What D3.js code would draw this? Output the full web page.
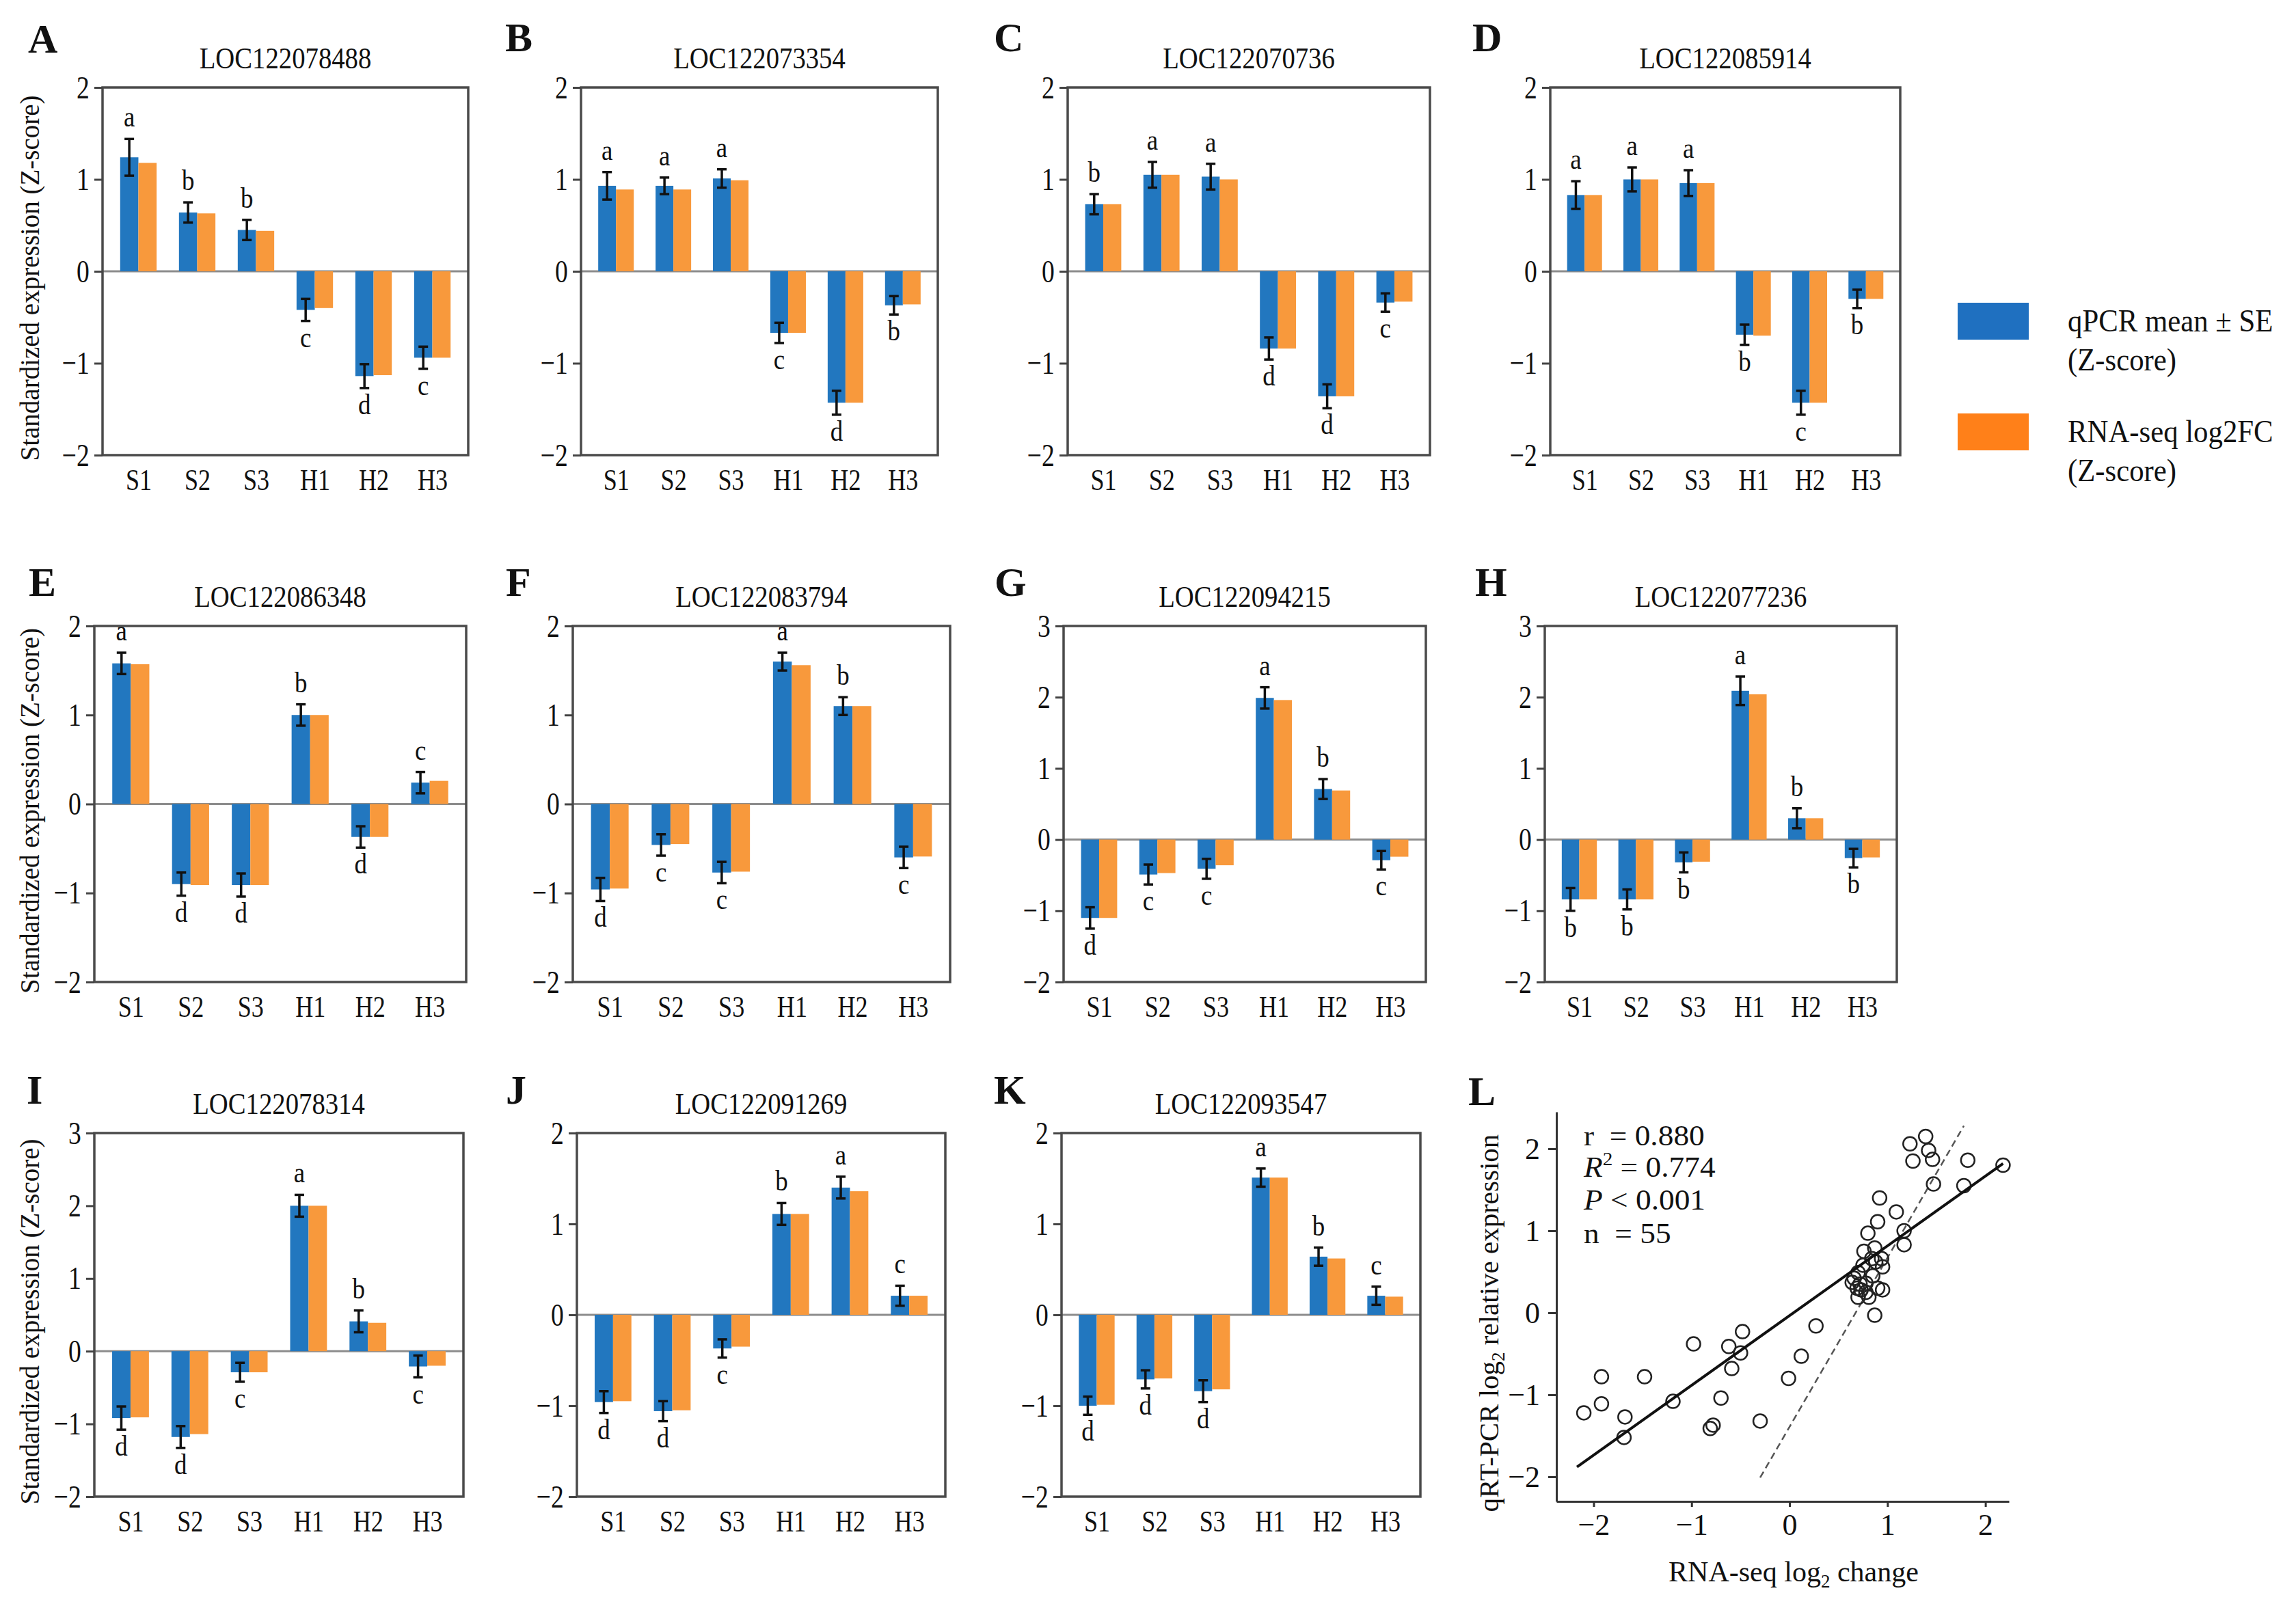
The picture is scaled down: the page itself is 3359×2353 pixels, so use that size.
<!DOCTYPE html>
<html>
<head>
<meta charset="utf-8">
<script src="https://cdn.jsdelivr.net/npm/d3@7"></script>
<style>
    body { margin: 0; background: #fff; }
    text { font-family: "Liberation Serif", "Times New Roman", serif; fill: #111; }
</style>
</head>
<body>
<div id="chart"></div>
<script>
// ---- data ----
var groups = ["S1", "S2", "S3", "H1", "H2", "H3"];
var panelIds = ["A", "B", "C", "D", "E", "F", "G", "H", "I", "J", "K"];
var genes = ["LOC122078488", "LOC122073354", "LOC122070736", "LOC122085914",
             "LOC122086348", "LOC122083794", "LOC122094215", "LOC122077236",
             "LOC122078314", "LOC122091269", "LOC122093547"];

// y axis range of each panel
var yRanges = [[-2, 2], [-2, 2], [-2, 2], [-2, 2],
               [-2, 2], [-2, 2], [-2, 3], [-2, 3],
               [-2, 3], [-2, 2], [-2, 2]];

// qPCR mean (Z-score)
var qpcrMean = [
    [1.24, 0.64, 0.45, -0.42, -1.14, -0.94],
    [0.93, 0.93, 1.01, -0.67, -1.43, -0.37],
    [0.73, 1.05, 1.03, -0.84, -1.36, -0.34],
    [0.83, 1.00, 0.96, -0.69, -1.43, -0.30],
    [1.58, -0.90, -0.91, 1.00, -0.37, 0.24],
    [-0.96, -0.46, -0.77, 1.60, 1.10, -0.60],
    [-1.10, -0.49, -0.41, 1.99, 0.71, -0.29],
    [-0.84, -0.84, -0.32, 2.09, 0.30, -0.26],
    [-0.92, -1.18, -0.29, 2.00, 0.41, -0.21],
    [-0.96, -1.06, -0.37, 1.11, 1.40, 0.21],
    [-1.00, -0.71, -0.84, 1.51, 0.64, 0.21]
];
// qPCR standard error
var qpcrSE = [
    [0.20, 0.11, 0.11, 0.12, 0.13, 0.12],
    [0.15, 0.09, 0.10, 0.11, 0.13, 0.10],
    [0.11, 0.14, 0.14, 0.12, 0.13, 0.10],
    [0.15, 0.13, 0.14, 0.11, 0.13, 0.10],
    [0.12, 0.13, 0.13, 0.12, 0.12, 0.12],
    [0.13, 0.12, 0.12, 0.10, 0.10, 0.12],
    [0.15, 0.14, 0.14, 0.15, 0.14, 0.13],
    [0.16, 0.14, 0.14, 0.20, 0.14, 0.13],
    [0.16, 0.15, 0.13, 0.15, 0.15, 0.15],
    [0.12, 0.11, 0.10, 0.12, 0.12, 0.11],
    [0.10, 0.10, 0.12, 0.10, 0.10, 0.10]
];
// RNA-seq log2FC (Z-score)
var rnaseqFC = [
    [1.18, 0.63, 0.44, -0.40, -1.13, -0.94],
    [0.89, 0.89, 0.99, -0.67, -1.43, -0.36],
    [0.73, 1.05, 1.00, -0.84, -1.36, -0.33],
    [0.83, 1.00, 0.96, -0.70, -1.43, -0.30],
    [1.57, -0.91, -0.91, 1.00, -0.37, 0.26],
    [-0.95, -0.45, -0.76, 1.56, 1.10, -0.59],
    [-1.10, -0.47, -0.36, 1.96, 0.69, -0.24],
    [-0.84, -0.84, -0.31, 2.04, 0.30, -0.25],
    [-0.91, -1.14, -0.29, 2.00, 0.39, -0.20],
    [-0.95, -1.05, -0.35, 1.11, 1.36, 0.21],
    [-0.99, -0.70, -0.82, 1.51, 0.62, 0.20]
];
// significance letters
var sigLetters = [
    ["a", "b", "b", "c", "d", "c"],
    ["a", "a", "a", "c", "d", "b"],
    ["b", "a", "a", "d", "d", "c"],
    ["a", "a", "a", "b", "c", "b"],
    ["a", "d", "d", "b", "d", "c"],
    ["d", "c", "c", "a", "b", "c"],
    ["d", "c", "c", "a", "b", "c"],
    ["b", "b", "b", "a", "b", "b"],
    ["d", "d", "c", "a", "b", "c"],
    ["d", "d", "c", "b", "a", "c"],
    ["d", "d", "d", "a", "b", "c"]
];

// panel L scatter: RNA-seq log2 change vs qRT-PCR log2 relative expression
var rnaLog2 = [-2.10, -1.92, -1.92, -1.68, -1.69, -1.48, -1.19, -0.98, -0.81, -0.78,
               -0.70, -0.62, -0.59, -0.50, -0.48, -0.30, -0.01, 0.12, 0.27, 0.87,
               0.64, 0.70, 0.73, 0.76, 0.78, 0.81, 0.84, 0.87, 0.80, 0.90,
               0.94, 0.95, 0.95, 0.70, 0.69, 0.90, 0.92, 1.09, 1.17, 1.17,
               1.23, 1.39, 1.42, 1.26, 1.46, 1.47, 1.78, 1.82, 2.18, 0.66,
               0.75, 0.85, 0.72, 0.88, 0.78];
var qpcrLog2 = [-1.22, -1.11, -0.78, -1.27, -1.52, -0.78, -1.08, -0.38, -1.41, -1.37,
                -1.04, -0.41, -0.68, -0.49, -0.23, -1.32, -0.80, -0.53, -0.16, -0.03,
                0.37, 0.49, 0.28, 0.75, 0.36, 0.19, 0.66, 0.79, 0.97, 0.30,
                0.66, 0.56, 0.28, 0.19, 0.30, 1.11, 1.40, 1.23, 1.00, 0.83,
                2.06, 2.15, 1.98, 1.85, 1.87, 1.57, 1.55, 1.86, 1.80, 0.42,
                0.58, 0.45, 0.35, 0.62, 0.25];
var fitLine = [[-2.17, -1.88], [2.18, 1.82]];
var dashLine = [[-0.30, -2.01], [1.78, 2.28]];
var statLines = ["r", "R2", "P", "n"];
var statValues = ["0.880", "0.774", "0.001", "55"];

var seriesNames = [["qPCR mean \u00b1 SE", "(Z-score)"], ["RNA-seq log2FC", "(Z-score)"]];

// ---- layout ----
var W = 3359, H = 2353;
var blue = "#2277bf", orange = "#f8993c";
var legendBlue = "#1f70c0", legendOrange = "#ff8019";

var rows = [[128, 666], [916, 1437], [1658, 2190]];
var boxes = [
    {x0: 150, x1: 685, r: 0, lx: 41, ly: 77},
    {x0: 850, x1: 1372, r: 0, lx: 739, ly: 75},
    {x0: 1562, x1: 2092, r: 0, lx: 1454, ly: 75},
    {x0: 2268, x1: 2780, r: 0, lx: 2154, ly: 75},
    {x0: 138, x1: 682, r: 1, lx: 42, ly: 872},
    {x0: 838, x1: 1390, r: 1, lx: 740, ly: 872},
    {x0: 1556, x1: 2086, r: 1, lx: 1455, ly: 872},
    {x0: 2260, x1: 2775, r: 1, lx: 2158, ly: 872},
    {x0: 138, x1: 678, r: 2, lx: 39, ly: 1615},
    {x0: 844, x1: 1383, r: 2, lx: 740, ly: 1615},
    {x0: 1553, x1: 2078, r: 2, lx: 1454, ly: 1615}
];

var svg = d3.select("#chart")
    .append("svg")
    .attr("width", W)
    .attr("height", H);

svg.append("rect").attr("width", W).attr("height", H).attr("fill", "#fff");

// text helper, slightly condensed like the original
function label(g, str, x, y, size, sx, anchor) {
    return g.append("text")
        .attr("transform", "translate(" + x + "," + y + ") scale(" + sx + ",1)")
        .attr("text-anchor", anchor || "middle")
        .attr("font-size", size)
        .text(str);
}

function barPanel(i) {
    var b = boxes[i];
    var y0 = rows[b.r][0], y1 = rows[b.r][1];
    var g = svg.append("g");

    var x = d3.scalePoint().domain(groups).range([b.x0, b.x1]).padding(0.61);
    var y = d3.scaleLinear().domain(yRanges[i]).range([y1, y0]);
    var bw = x.step() * 0.31;

    // panel letter and gene title
    g.append("text").attr("x", b.lx).attr("y", b.ly)
        .attr("font-size", 60).attr("font-weight", "bold").text(panelIds[i]);
    label(g, genes[i], (b.x0 + b.x1) / 2, y0 - 28, 44, 0.88);

    // zero line
    g.append("line")
        .attr("x1", b.x0).attr("x2", b.x1)
        .attr("y1", y(0)).attr("y2", y(0))
        .attr("stroke", "#8c8c8c").attr("stroke-width", 3);

    // bars
    g.selectAll(".qpcr")
        .data(groups)
        .enter()
        .append("rect")
        .attr("x", function (d) { return x(d) - bw; })
        .attr("y", function (d, j) { return y(Math.max(0, qpcrMean[i][j])); })
        .attr("width", bw)
        .attr("height", function (d, j) { return Math.abs(y(qpcrMean[i][j]) - y(0)); })
        .attr("fill", blue);

    g.selectAll(".rna")
        .data(groups)
        .enter()
        .append("rect")
        .attr("x", function (d) { return x(d); })
        .attr("y", function (d, j) { return y(Math.max(0, rnaseqFC[i][j])); })
        .attr("width", bw)
        .attr("height", function (d, j) { return Math.abs(y(rnaseqFC[i][j]) - y(0)); })
        .attr("fill", orange);

    // error bars on the qPCR bars
    groups.forEach(function (d, j) {
        var cx = x(d) - bw / 2;
        var top = y(qpcrMean[i][j] + qpcrSE[i][j]);
        var bot = y(qpcrMean[i][j] - qpcrSE[i][j]);
        var eb = g.append("g").attr("stroke", "#111").attr("stroke-width", 3.5);
        eb.append("line").attr("x1", cx).attr("x2", cx).attr("y1", top).attr("y2", bot);
        eb.append("line").attr("x1", cx - 7).attr("x2", cx + 7).attr("y1", top).attr("y2", top);
        eb.append("line").attr("x1", cx - 7).attr("x2", cx + 7).attr("y1", bot).attr("y2", bot);

        var ly = qpcrMean[i][j] >= 0 ? top - 18 : bot + 38;
        label(g, sigLetters[i][j], cx, ly, 43, 0.86);
    });

    // frame
    g.append("rect")
        .attr("x", b.x0).attr("y", y0)
        .attr("width", b.x1 - b.x0).attr("height", y1 - y0)
        .attr("fill", "none").attr("stroke", "#4a4a4a").attr("stroke-width", 3.5);

    // y axis
    var ya = g.append("g")
        .attr("transform", "translate(" + b.x0 + ",0)")
        .call(d3.axisLeft(y)
            .tickValues(d3.range(yRanges[i][0], yRanges[i][1] + 1))
            .tickSize(12).tickPadding(12).tickFormat(d3.format("d")));
    ya.select(".domain").remove();
    ya.attr("font-family", null).attr("font-size", 47);
    ya.selectAll("line").attr("stroke", "#444").attr("stroke-width", 3);
    ya.selectAll("text").attr("transform", "scale(0.8,1)").attr("fill", "#111");

    // x axis (group labels)
    var xa = g.append("g")
        .attr("transform", "translate(0," + y1 + ")")
        .call(d3.axisBottom(x).tickSize(0).tickPadding(20));
    xa.select(".domain").remove();
    xa.attr("font-family", null).attr("font-size", 44);
    xa.selectAll("text").attr("transform", "scale(0.82,1)").attr("fill", "#111");

    // y title on the first column only
    if (i === 0 || i === 4 || i === 8) {
        g.append("text")
            .attr("transform", "translate(57," + ((y0 + y1) / 2 + 10) + ") rotate(-90)")
            .attr("text-anchor", "middle")
            .attr("font-size", 39)
            .text("Standardized expression (Z-score)");
    }
}

for (var i = 0; i < genes.length; i++) {
    barPanel(i);
}

// ---- legend ----
var lg = svg.append("g");
[legendBlue, legendOrange].forEach(function (c, k) {
    var top = k === 0 ? 443 : 605;
    lg.append("rect").attr("x", 2864).attr("y", top)
        .attr("width", 104).attr("height", 54).attr("fill", c);
    label(lg, seriesNames[k][0], 3025, top + 42, 46, 0.93, "start");
    label(lg, seriesNames[k][1], 3025, top + 99, 46, 0.93, "start");
});

// ---- panel L scatter ----
var sg = svg.append("g");
var sx = d3.scaleLinear().domain([-2.38, 2.24]).range([2277, 2939]);
var sy = d3.scaleLinear().domain([-2.3, 2.45]).range([2197, 1627]);

sg.append("text").attr("x", 2148).attr("y", 1617)
    .attr("font-size", 60).attr("font-weight", "bold").text("L");

var ax = sg.append("g")
    .attr("transform", "translate(0,2197)")
    .call(d3.axisBottom(sx).tickValues([-2, -1, 0, 1, 2]).tickSize(8).tickSizeOuter(0)
        .tickPadding(10).tickFormat(d3.format("d")));
var ay = sg.append("g")
    .attr("transform", "translate(2277,0)")
    .call(d3.axisLeft(sy).tickValues([-2, -1, 0, 1, 2]).tickSize(12).tickSizeOuter(0)
        .tickPadding(12).tickFormat(d3.format("d")));
[ax, ay].forEach(function (a) {
    a.attr("font-family", null).attr("font-size", 44);
    a.selectAll("line,path").attr("stroke", "#333").attr("stroke-width", 3);
    a.selectAll("text").attr("fill", "#111");
});

var line = d3.line().x(function (d) { return sx(d[0]); }).y(function (d) { return sy(d[1]); });

sg.append("path").attr("d", line(dashLine))
    .attr("fill", "none").attr("stroke", "#555").attr("stroke-width", 2.5)
    .attr("stroke-dasharray", "10,6");

sg.selectAll("circle")
    .data(rnaLog2)
    .enter()
    .append("circle")
    .attr("cx", function (d) { return sx(d); })
    .attr("cy", function (d, j) { return sy(qpcrLog2[j]); })
    .attr("r", 10)
    .attr("fill", "none")
    .attr("stroke", "#222")
    .attr("stroke-width", 2.5);

sg.append("path").attr("d", line(fitLine))
    .attr("fill", "none").attr("stroke", "#111").attr("stroke-width", 4);

// statistics text (stretched a little, as in the original)
var nb = "\u00a0";
var st = sg.append("g").attr("font-size", 42);
st.append("text").attr("transform", "translate(2317,1676) scale(1.08,1)")
    .text(statLines[0] + nb + nb + "= " + statValues[0]);
var r2 = st.append("text").attr("transform", "translate(2317,1722) scale(1.08,1)");
r2.append("tspan").attr("font-style", "italic").text("R");
r2.append("tspan").attr("font-size", 27).attr("dy", -17).text("2");
r2.append("tspan").attr("dy", 17).text(nb + "= " + statValues[1]);
var pt = st.append("text").attr("transform", "translate(2317,1770) scale(1.08,1)");
pt.append("tspan").attr("font-style", "italic").text(statLines[2]);
pt.append("tspan").text(nb + "< " + statValues[2]);
st.append("text").attr("transform", "translate(2317,1819) scale(1.08,1)")
    .text(statLines[3] + nb + nb + "= " + statValues[3]);

// axis titles
var xt = sg.append("text").attr("x", 2624).attr("y", 2314)
    .attr("text-anchor", "middle").attr("font-size", 42);
xt.append("tspan").text("RNA-seq log");
xt.append("tspan").attr("font-size", 27).attr("dy", 9).text("2");
xt.append("tspan").attr("dy", -9).text(" change");

var ytl = sg.append("text")
    .attr("transform", "translate(2192,1936) rotate(-90)")
    .attr("text-anchor", "middle").attr("font-size", 41);
ytl.append("tspan").text("qRT-PCR log");
ytl.append("tspan").attr("font-size", 27).attr("dy", 9).text("2");
ytl.append("tspan").attr("dy", -9).text(" relative expression");
</script>
</body>
</html>
